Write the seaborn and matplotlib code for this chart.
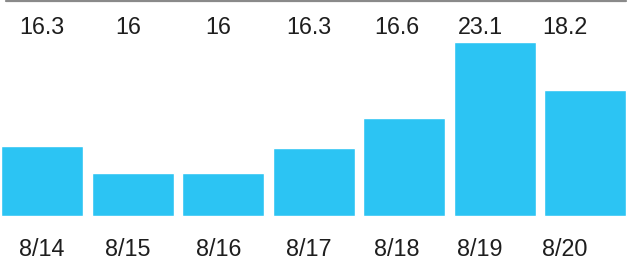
import matplotlib
matplotlib.use("Agg")
import matplotlib.pyplot as plt
import seaborn as sns
import pandas as pd

# Data
dates = ["8/14", "8/15", "8/16", "8/17", "8/18", "8/19", "8/20"]
value_labels = ["16.3", "16", "16", "16.3", "16.6", "23.1", "18.2"]
bar_heights = [7.0, 4.3, 4.3, 6.8, 9.8, 17.4, 12.6]  # drawn heights (arbitrary units)

# horizontal nudge (in category units) of the text labels, as seen in the picture
label_nudge = [0, -0.05, -0.05, -0.05, -0.08, -0.16, -0.22]

df = pd.DataFrame({"date": dates, "height": bar_heights})

sns.set_theme(style="white")
plt.rcParams["font.family"] = ["Liberation Sans", "DejaVu Sans"]

fig = plt.figure(figsize=(6.28, 2.6), dpi=100)
ax = fig.add_axes([0, 0, 1, 1])

sns.barplot(data=df, x="date", y="height", color="#2CC4F3", width=0.906,
            saturation=1, ax=ax)

ax.set_xlim(-0.4641, 6.475)
ax.set_ylim(-4.4, 21.6)
ax.axis("off")

# grey rule at the top
ax.axhline(21.5, xmin=6 / 628, xmax=626 / 628, color="#8a8a8a", lw=1.6)

for i, (d, v) in enumerate(zip(dates, value_labels)):
    x = i + label_nudge[i]
    ax.text(x, 18.9, v, ha="center", va="center", fontsize=16.8, color="#1e1e1e")
    ax.text(x, -3.35, d, ha="center", va="center", fontsize=16.8, color="#1e1e1e")

fig.savefig("out.png", dpi=100)
